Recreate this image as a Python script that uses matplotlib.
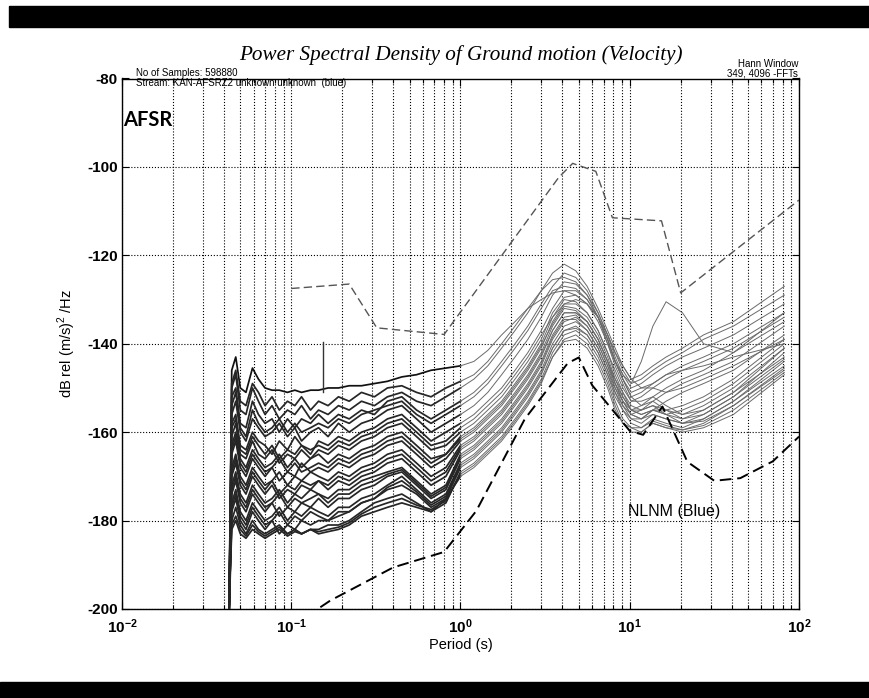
import matplotlib.pyplot as plt
from matplotlib.patches import Rectangle
from matplotlib.ticker import LogLocator, NullFormatter, FixedLocator

plt.rcParams['font.family'] = ['Liberation Sans', 'DejaVu Sans']
plt.rcParams['mathtext.fontset'] = 'custom'
plt.rcParams['mathtext.rm'] = 'Liberation Sans'
plt.rcParams['mathtext.bf'] = 'Liberation Sans:bold'
plt.rcParams['axes.unicode_minus'] = False

# period (s) of each spectral estimate: short-period bins, hump, long-period FFT bins
period = [0.043, 0.0445, 0.047, 0.05, 0.054, 0.059, 0.064, 0.07, 0.077, 0.085,
          0.095, 0.105, 0.115, 0.13, 0.145, 0.165, 0.19, 0.22, 0.26, 0.31,
          0.37, 0.45, 0.55, 0.67, 0.82, 1.0,
          1.2, 1.45, 1.75, 2.1, 2.5, 3.0, 3.5, 4.1, 4.8, 5.6, 6.5, 7.4, 8.2, 9.1, 10.2,
          11.7, 13.7, 16.4, 20.5, 27.3, 41.0, 81.9]
N_SHORT = 26  # number of short-period bins in the list above

# PSD (dB) per hourly segment
psd_segments = [
    [-197, -146, -143, -150, -151, -145.5, -148, -150, -150.5, -150.5, -151, -150.5, -151, -150.5, -150.5, -150, -150, -149.5, -149.5, -149, -148.5, -147.5, -147, -146, -145.5, -145,
     -144, -141.5, -138, -135, -132, -130, -128.5, -128, -129, -131, -134, -138, -142, -145, -148,
     -150, -149, -147, -146, -145, -143, -140],
    [-199, -150, -147, -155, -156, -150, -153, -156, -154, -157, -155, -156, -154, -157, -155, -156, -154, -155, -153, -154, -152, -151, -153, -154, -152, -150,
     -148, -145, -141, -137, -133, -128, -124, -122, -123.5, -127, -132, -137, -141, -145, -148,
     -147, -145, -143, -141, -138, -135, -127],
    [-199, -149, -146, -153, -154, -149, -151, -154, -152, -155, -153, -154, -152, -155, -153, -154, -152, -153, -151, -152, -150, -149.5, -151, -152, -150, -148.5,
     -147, -144, -140, -136, -132, -128, -125.5, -125, -126, -129, -133, -138, -142, -146, -149,
     -148, -146, -144, -142, -139, -136, -129],
    [-195, -152, -150, -158, -159, -153, -156, -158, -157, -160, -157, -159, -157, -158, -156, -158, -156, -157, -155, -156, -153, -152, -155, -157, -155, -153,
     -151, -148, -144, -140, -136, -131, -127, -124, -125, -128, -133, -138, -143, -147, -150,
     -149, -147, -145, -143, -141, -138, -131],
    [-197, -154, -151, -159, -161, -155, -158, -160, -159, -157, -160, -158, -160, -159, -158, -159, -157, -158, -156, -155, -154, -153, -156, -158, -156, -154,
     -152, -149, -145, -141, -137, -132, -128, -127, -127.5, -130, -134, -139, -144, -148, -151,
     -150, -150, -148, -146, -144, -141, -134],
    [-200, -156, -153, -160, -162, -157, -159, -161, -160, -158, -161, -159, -162, -160, -159, -161, -158, -160, -158, -157, -155, -154, -157, -160, -158, -156,
     -154, -151, -147, -143, -139, -134, -129, -126, -126.5, -129, -134, -139, -144, -148, -152,
     -151, -149, -147, -145, -143, -140, -133],
    [-198, -158, -156, -163, -164, -160, -162, -163, -165, -162, -164, -161, -163, -165, -162, -163, -161, -162, -160, -159, -157, -156, -159, -162, -160, -158,
     -156, -153, -150, -146, -142, -137, -132, -128, -128, -130, -134, -140, -145, -149, -153,
     -153, -152, -150, -148, -146, -142, -135],
    [-200, -159, -157, -164, -165, -161, -163, -165, -163, -166, -164, -165, -163, -164, -163, -164, -162, -163, -161, -160, -158, -157, -160, -163, -162, -159,
     -157, -154, -151, -147, -143, -138, -134, -131, -130, -131, -134, -139, -144, -148, -152,
     -154, -153, -151, -149, -147, -144, -136],
    [-200, -161, -158, -165, -166, -162, -165, -166, -164, -167, -165, -166, -164, -166, -164, -165, -163, -164, -162, -161, -159, -158, -161, -164, -163, -160,
     -158, -155, -152, -148, -144, -139, -133, -129.5, -129, -131, -135, -140, -144, -147, -149,
     -144, -136, -130.5, -133, -140, -142, -133],
    [-196, -163, -160, -166, -168, -164, -166, -168, -167, -165, -168, -166, -168, -166, -165, -167, -165, -166, -164, -163, -161, -160, -163, -166, -165, -161,
     -159, -156, -153, -149, -145, -140, -134, -130, -130.5, -133, -137, -142, -147, -151, -155,
     -156, -155, -153, -151, -149, -146, -138],
    [-198, -164, -161, -167, -169, -165, -167, -169, -168, -166, -169, -167, -169, -168, -167, -168, -166, -167, -165, -164, -162, -161, -164, -167, -165, -161.5,
     -159.5, -156.5, -153.5, -149.5, -145.5, -140.5, -135.5, -131.5, -132, -134, -138, -143, -148, -152, -155,
     -155, -154, -155, -154, -152, -148, -139],
    [-200, -165, -162, -168, -170, -166, -168, -170, -168, -171, -169, -170, -167, -169, -168, -169, -167, -168, -166, -165, -163, -162, -165, -168, -166, -162,
     -160, -157, -154, -150, -146, -141, -135, -131, -131, -133, -137, -142, -146, -150, -153,
     -152, -150, -151, -150, -148, -145, -139],
    [-197, -168, -165, -170, -172, -168, -170, -172, -171, -169, -172, -170, -171, -169, -170, -171, -169, -170, -168, -167, -165, -164, -167, -170, -168, -163,
     -161, -158, -155, -151, -147, -142, -136, -132, -132.5, -135, -139, -144, -149, -153, -156,
     -157, -155, -156, -155, -153, -149, -140],
    [-200, -169, -166, -171, -173, -169, -171, -173, -171, -174, -172, -173, -171, -172, -171, -172, -170, -171, -169, -168, -166, -165, -168, -171, -169, -163.5,
     -161.5, -158.5, -155.5, -151.5, -147.5, -142.5, -137, -133, -133, -135, -139, -144, -149, -153, -155,
     -156, -155, -156, -157, -155, -151, -141],
    [-200, -170, -167, -172, -174, -170, -172, -174, -172, -175, -173, -174, -172, -173, -171, -173, -171, -172, -170, -169, -167, -166, -169, -172, -170, -164,
     -162, -159, -156, -152, -148, -143, -137, -133, -133, -135, -139, -144, -148, -151, -154,
     -155, -153, -155, -156, -154, -150, -141],
    [-198, -172, -169, -174, -176, -172, -174, -176, -175, -173, -176, -174, -175, -173, -174, -175, -173, -173, -171, -170, -169, -168, -171, -174, -172, -165,
     -163, -160, -157, -153, -149, -144, -138, -134, -133.5, -136, -140, -145, -150, -154, -157,
     -158, -156, -157, -158, -156, -152, -142],
    [-199, -173, -170, -175, -177, -173, -175, -177, -176, -174, -177, -175, -176, -175, -174, -176, -174, -174, -172, -171, -169.5, -168.5, -171.5, -174.5, -172.5, -165.5,
     -163.5, -160.5, -157.5, -153.5, -149.5, -144.5, -138.5, -134.5, -134.5, -137, -141, -146, -150, -153, -156,
     -157, -155, -155, -157, -156, -152, -143.5],
    [-200, -174, -171, -176, -178, -174, -176, -178, -176, -179, -177, -178, -176, -177, -175, -177, -175, -175, -173, -172, -170, -169, -172, -175, -173, -166,
     -164, -161, -158, -154, -150, -145, -139, -135, -134, -136, -140, -145, -149, -152, -155,
     -154, -152, -154, -156, -155, -151, -143],
    [-199, -176, -173, -178, -180, -176, -178, -180, -179, -177, -180, -178, -179, -177, -178, -179, -177, -177, -175, -174, -172, -170, -173, -176, -174, -167,
     -165, -162, -159, -155, -151, -146, -140, -136, -135, -137, -141, -146, -151, -155, -158,
     -159, -157, -158, -159, -157, -153, -144],
    [-200, -177, -174, -179, -181, -177, -179, -181, -180, -178, -181, -179, -180, -178, -179, -180, -178, -178, -176, -175, -172.5, -171, -173.5, -176.5, -174.5, -167.5,
     -165.5, -162.5, -159.5, -155.5, -151.5, -146.5, -141, -137, -136.5, -138, -142, -147, -152, -155, -157,
     -157, -156, -157, -158, -157.5, -154, -145.5],
    [-200, -178, -175, -180, -182, -178, -180, -182, -180, -183, -181, -182, -180, -181, -180, -180, -179, -178, -176, -175, -173, -172, -174, -177, -175, -168,
     -166, -163, -160, -156, -152, -147, -141, -137, -136, -138, -142, -147, -151, -154, -156,
     -155, -154, -156, -158, -157, -153, -145],
    [-198, -180, -177, -181, -183, -180, -182, -183, -182, -181, -183, -182, -183, -182, -182, -181, -181, -180, -178, -176, -175, -174, -176, -178, -176, -169,
     -167, -164, -161, -157, -153, -148, -142, -138, -137, -139, -143, -148, -153, -157, -159,
     -160, -158, -159, -159.5, -158, -154, -146],
    [-198, -181, -179, -182, -183.5, -181, -182.5, -183.5, -182.5, -181.5, -183, -182, -183, -182, -182.5, -182, -181.5, -180.5, -178.5, -177, -176, -175, -176.5, -177.5, -175.5, -169.5,
     -167.5, -164.5, -161.5, -157.5, -153.5, -148.5, -143, -139.5, -139, -141, -145, -150, -155, -158, -159,
     -159, -157.5, -158.5, -159.5, -158.5, -155, -146.5],
    [-200, -182, -180, -183, -184, -182, -183, -184, -183, -182, -183.5, -182.5, -183, -182, -183, -182.5, -182, -181, -179, -178, -177, -176, -177, -178, -175, -170,
     -168, -165, -162, -158, -154, -149, -143, -139, -138, -140, -144, -149, -154, -158, -160,
     -160, -158, -159, -160, -159, -156, -147],
]

# single-bin spike on the quietest segment
spike_period = [0.154, 0.154]
spike_db = [-139.5, -151.0]

# Peterson high / low noise models converted to velocity
nhnm_period = [0.1, 0.22, 0.32, 0.8, 3.8, 4.6, 6.3, 7.9, 15.4, 20.0, 100.0]
nhnm_db = [-127.5, -126.5, -136.4, -137.9, -102.4, -99.2, -101.0, -111.5, -112.2, -128.5, -107.5]
nlnm_period = [0.1, 0.17, 0.4, 0.8, 1.24, 2.4, 4.3, 5.0, 6.0, 10.0, 12.0, 15.6, 21.9, 31.6, 45.0, 70.0, 100.0]
nlnm_db = [-204.0, -198.1, -190.6, -187.1, -177.8, -157.0, -144.4, -143.1, -149.4, -159.7, -160.6,
           -154.2, -166.7, -171.0, -170.4, -166.6, -161.0]

W, H = 870, 698
fig = plt.figure(figsize=(W / 100, H / 100), dpi=100)
ax = fig.add_axes([122 / W, 1 - 609 / H, 677 / W, 530.5 / H])

# black strips above and below the plot
fig.patches.append(Rectangle((9 / W, 1 - 27 / H), 1, 21 / H, transform=fig.transFigure,
                             color='k', zorder=0))
fig.patches.append(Rectangle((0, 0), 1, 16 / H, transform=fig.transFigure, color='k', zorder=0))

for k, seg in enumerate(psd_segments):
    dark = '#111111' if k == 0 else '#262626'
    ax.plot(period[:N_SHORT], seg[:N_SHORT], color=dark, lw=1.25, zorder=3)
    ax.plot(period[N_SHORT - 1:], seg[N_SHORT - 1:], color='#6a6a6a', lw=0.7, zorder=3)
ax.plot(spike_period, spike_db, color='#333333', lw=1.0, zorder=3)

ax.plot(nhnm_period, nhnm_db, color='#555555', lw=1.0, dashes=(6, 3), zorder=4)
ax.plot(nlnm_period, nlnm_db, color='k', lw=1.4, dashes=(6, 3), zorder=4)

ax.set_xscale('log')
ax.set_xlim(1e-2, 1e2)
ax.set_ylim(-200, -80)
ax.yaxis.set_major_locator(FixedLocator(range(-200, -79, 20)))
ax.xaxis.set_minor_locator(LogLocator(base=10, subs=range(2, 10)))
ax.xaxis.set_minor_formatter(NullFormatter())
ax.grid(which='both', linestyle=':', color='k', lw=0.8)
ax.tick_params(which='both', direction='in', top=True, right=True, labelsize=11, width=0.8)
ax.tick_params(axis='y', pad=3)
ax.tick_params(axis='x', pad=6)
ax.tick_params(which='major', length=5)
ax.tick_params(which='minor', length=3)
for lab in ax.get_xticklabels() + ax.get_yticklabels():
    lab.set_fontweight('bold')
for s in ax.spines.values():
    s.set_linewidth(1.0)

ax.set_xlabel('Period (s)', fontsize=10.5)
ax.set_ylabel(r'dB rel (m/s)$^2$ /Hz', fontsize=10.5)
ax.yaxis.set_label_coords(-0.065, 0.5)
ax.xaxis.set_label_coords(0.5, -0.055)

fig.text(460.5 / W, 1 - 55 / H, 'Power Spectral Density of Ground motion (Velocity)',
         family='Liberation Serif', style='italic', fontsize=15.2, ha='center', va='center')
small = ['Liberation Sans Narrow', 'Liberation Sans']
fig.text(136 / W, 1 - 76 / H, 'No of Samples: 598880', family=small, fontsize=7, va='baseline')
fig.text(136 / W, 1 - 85.5 / H, 'Stream: KAN-AFSRZ2 unknown unknown  (blue)', family=small,
         fontsize=7, va='baseline')
fig.text(798 / W, 1 - 67 / H, 'Hann Window', family=small, fontsize=7, ha='right', va='baseline')
fig.text(798 / W, 1 - 76 / H, '349, 4096 -FFTs', family=small, fontsize=7, ha='right', va='baseline')

ax.text(0.0102, -89.5, 'AFSR', family=['Lato', 'DejaVu Sans'], weight='bold', fontsize=14.5,
        va='center')
ax.text(9.8, -178, 'NLNM (Blue)', fontsize=11.5, va='center')

fig.savefig('out.png', dpi=100)
